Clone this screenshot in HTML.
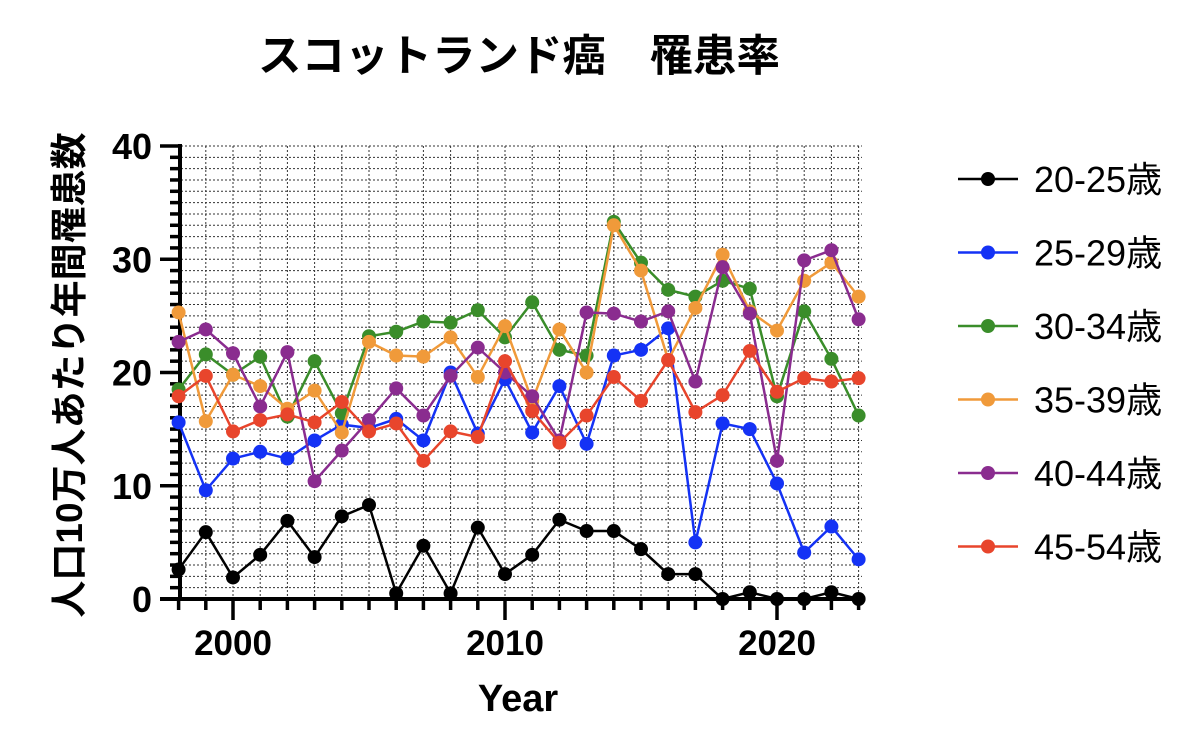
<!DOCTYPE html>
<html><head><meta charset="utf-8"><style>
html,body{margin:0;padding:0;background:#fff;width:1200px;height:730px;overflow:hidden}
text{font-family:"Liberation Sans","Noto Sans CJK JP",sans-serif}
</style></head><body>
<svg id="s" width="1200" height="730" xmlns="http://www.w3.org/2000/svg">
<text x="519" y="71" text-anchor="middle" font-size="43.5" font-weight="bold" font-family="Liberation Sans, Noto Sans CJK JP, sans-serif">スコットランド癌　罹患率</text>
<text x="518" y="711" text-anchor="middle" font-size="38" font-weight="bold">Year</text>
<text transform="translate(82,375) rotate(-90)" text-anchor="middle" font-size="37" font-weight="bold" font-family="Liberation Sans, Noto Sans CJK JP, sans-serif">人口10万人あたり年間罹患数</text>
<g id="g"></g>
</svg>
<script>
const NS="http://www.w3.org/2000/svg";const g=document.getElementById('g');
function el(t,a,txt){const e=document.createElementNS(NS,t);for(const k in a)e.setAttribute(k,a[k]);if(txt!==undefined)e.textContent=txt;g.appendChild(e);return e;}
const X=y=>233+(y-2000)*27.2, Y=v=>599-v*11.325;
for(let v=1;v<=40;v++) el('line',{x1:181,x2:862,y1:Y(v),y2:Y(v),stroke:'#333','stroke-width':1,'stroke-dasharray':'2,2'});
for(let yr=1999;yr<=2023;yr++) el('line',{x1:X(yr),x2:X(yr),y1:146,y2:597,stroke:'#333','stroke-width':1,'stroke-dasharray':'2,2'});
el('line',{x1:180,x2:180,y1:144,y2:601,stroke:'#000','stroke-width':4});
el('line',{x1:160,x2:864,y1:599,y2:599,stroke:'#000','stroke-width':4});
for(let v=0;v<=40;v++){const maj=v%10==0;el('line',{x1:maj?160:170,x2:180,y1:Y(v),y2:Y(v),stroke:'#000','stroke-width':3.5});
 if(maj)el('text',{x:152,y:Y(v)+13,'text-anchor':'end','font-size':36,'font-weight':'bold'},String(v));}
for(let yr=1998;yr<=2023;yr++){const maj=yr%10==0;el('line',{x1:X(yr),x2:X(yr),y1:599,y2:maj?620:610,stroke:'#000','stroke-width':3.5});
 if(maj)el('text',{x:X(yr),y:655,'text-anchor':'middle','font-size':35,'font-weight':'bold'},String(yr));}
const S=[
['20-25歳','#000',[2.6,5.9,1.9,3.9,6.9,3.7,7.3,8.3,0.5,4.7,0.5,6.3,2.2,3.9,7.0,6.0,6.0,4.4,2.2,2.2,0,0.6,0,0,0.6,0]],
['25-29歳','#1432f5',[15.6,9.6,12.4,13.0,12.4,14.0,15.4,15.1,15.9,14.0,20.0,14.6,19.4,14.7,18.8,13.7,21.5,22.0,23.9,5.0,15.5,15.0,10.2,4.1,6.4,3.5]],
['30-34歳','#3a8d2a',[18.5,21.6,19.8,21.4,16.1,21.0,16.4,23.2,23.6,24.5,24.4,25.5,23.1,26.2,22.0,21.5,33.3,29.7,27.3,26.7,28.1,27.4,17.9,25.4,21.2,16.2]],
['35-39歳','#f09a3a',[25.3,15.7,19.8,18.8,16.8,18.4,14.7,22.7,21.5,21.4,23.1,19.6,24.1,17.5,23.8,20.0,33.0,29.0,21.1,25.7,30.4,25.4,23.7,28.1,29.7,26.7]],
['40-44歳','#8a2c8f',[22.7,23.8,21.7,17.0,21.8,10.4,13.1,15.8,18.6,16.2,19.7,22.2,20.0,17.9,14.0,25.3,25.2,24.5,25.4,19.2,29.3,25.2,12.2,29.9,30.8,24.7]],
['45-54歳','#e8452c',[17.9,19.7,14.8,15.8,16.3,15.6,17.4,14.8,15.5,12.2,14.8,14.3,21.0,16.6,13.8,16.2,19.6,17.5,21.1,16.5,18.0,21.9,18.3,19.5,19.2,19.5]]];
S.forEach((s,i)=>{const pts=s[2].map((v,j)=>X(1998+j)+','+Y(v)).join(' ');
 el('polyline',{points:pts,fill:'none',stroke:s[1],'stroke-width':2.5});
 s[2].forEach((v,j)=>el('circle',{cx:X(1998+j),cy:Y(v),r:7,fill:s[1]}));
 const ly=179+i*73.5;el('line',{x1:958,x2:1018,y1:ly,y2:ly,stroke:s[1],'stroke-width':2.5});
 el('circle',{cx:988,cy:ly,r:7,fill:s[1]});
 el('text',{x:1034,y:ly+13,'font-size':36,'font-family':'Liberation Sans, Noto Sans CJK JP, sans-serif'},s[0]);});
</script>
</body></html>
